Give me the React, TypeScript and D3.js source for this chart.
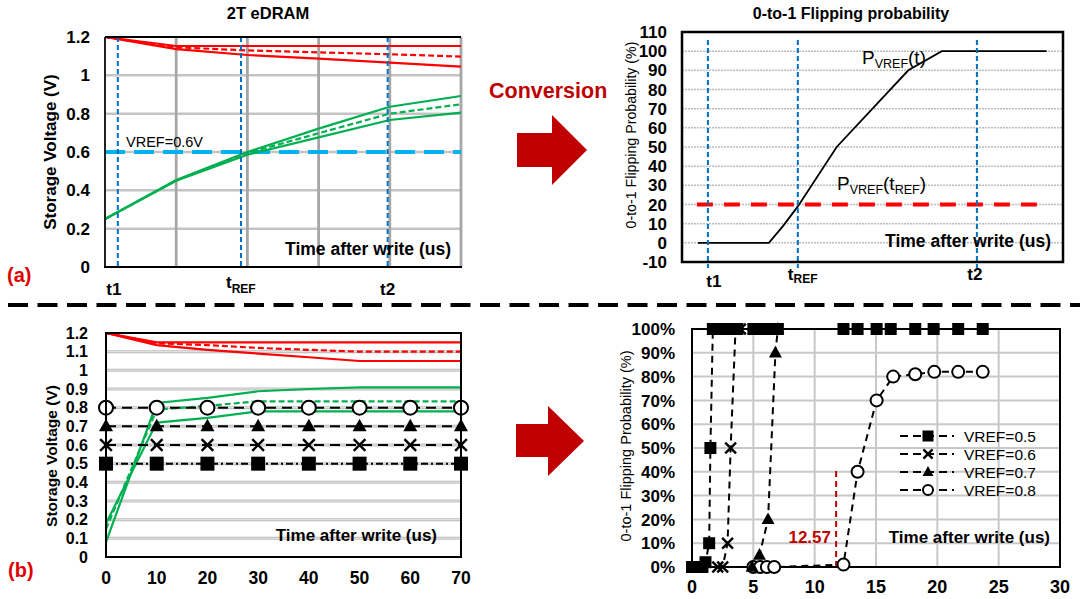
import * as d3 from 'd3';

const W = 1083, H = 599;
const FONT = '"Liberation Sans", Arial, sans-serif';

// ---- (a) left : storage voltage vs time (arbitrary units)
const timeA = [0, 1, 2, 3, 4, 5];
const redTopA = [1.2, 1.153, 1.153, 1.153, 1.153, 1.153];
const redMidA = [1.2, 1.146, 1.13, 1.12, 1.11, 1.098];
const redLowA = [1.2, 1.137, 1.106, 1.087, 1.066, 1.045];
const greenTopA = [0.25, 0.454, 0.6, 0.722, 0.836, 0.892];
const greenMidA = [0.25, 0.452, 0.594, 0.698, 0.8, 0.849];
const greenLowA = [0.25, 0.45, 0.586, 0.676, 0.767, 0.805];
const yTicksA = [0, 0.2, 0.4, 0.6, 0.8, 1, 1.2];
const tMarkA = [0.18, 1.91, 3.97];
const vrefA = 0.6;

// ---- (a) right : flipping probability
const timeB = [4.2, 22.8, 26.6, 30.4, 40.6, 59.4, 68.2, 95.7];
const probB = [0, 0, 9, 19, 50, 90, 100, 100];
const yTicksB = [-10, 0, 10, 20, 30, 40, 50, 60, 70, 80, 90, 100, 110];
const tMarkB = [6.8, 30.4, 77.4];
const pRefB = 20;

// ---- (b) left : storage voltage, 0..70 us
const timeC = [0, 10, 20, 30, 40, 50, 60, 70];
const redTopC = [1.2, 1.15, 1.15, 1.15, 1.15, 1.15, 1.15, 1.15];
const redMidC = [1.2, 1.145, 1.135, 1.12, 1.11, 1.1, 1.1, 1.1];
const redLowC = [1.2, 1.135, 1.11, 1.09, 1.07, 1.05, 1.05, 1.05];
const greenTopC = [0.08, 0.825, 0.852, 0.888, 0.9, 0.909, 0.909, 0.909];
const greenMidC = [0.15, 0.79, 0.81, 0.834, 0.834, 0.834, 0.834, 0.834];
const greenLowC = [0.18, 0.72, 0.745, 0.78, 0.78, 0.78, 0.78, 0.78];
const yTicksC = [0, 0.1, 0.2, 0.3, 0.4, 0.5, 0.6, 0.7, 0.8, 0.9, 1, 1.1, 1.2];
const xTicksC = [0, 10, 20, 30, 40, 50, 60, 70];
const vrefLevels = [0.5, 0.6, 0.7, 0.8];
const vrefShapes = ['square', 'x', 'triangle', 'circle'];
const vrefNames = ['VREF=0.5', 'VREF=0.6', 'VREF=0.7', 'VREF=0.8'];

// ---- (b) right : flipping probability per VREF
const sqT = [0, 0.85, 1.1, 1.4, 1.5, 1.7, 2.1, 2.5, 2.9, 3.3, 3.7, 5.0, 5.4, 5.8, 6.2, 6.6, 7.0, 12.35, 13.5, 15.05, 16.2, 18.2, 19.7, 21.7, 23.7];
const sqP = [0, 0, 2, 10, 50, 100, 100, 100, 100, 100, 100, 100, 100, 100, 100, 100, 100, 100, 100, 100, 100, 100, 100, 100, 100];
const xT = [2.1, 2.5, 2.9, 3.15, 3.55, 3.95];
const xP = [0, 0, 10, 50, 100, 100];
const triT = [4.9, 5.5, 6.2, 6.8, 7.0];
const triP = [0, 5, 20, 90, 100];
const cirT = [5.0, 5.55, 6.1, 6.7, 12.35, 13.5, 15.05, 16.4, 18.2, 19.75, 21.7, 23.7];
const cirP = [0, 0, 0, 0, 1, 40, 70, 80, 81, 82, 82, 82];
const yTicksD = [0, 10, 20, 30, 40, 50, 60, 70, 80, 90, 100];
const xTicksD = [0, 5, 10, 15, 20, 25, 30];
const cutT = 11.75;
const cutLabel = '12.57';

const RED = '#ff0000';
const GREEN = '#00b050';
const BLUE = '#0070c0';
const DARKRED = '#c00000';

const path = (xs: number[], ys: number[], sx: any, sy: any) =>
  d3.line<number>().x((_, i) => sx(xs[i])).y((v) => sy(v))(ys) as string;

function Marker({ type, x, y, s }: { type: string; x: number; y: number; s: number }) {
  if (type === 'square') return <rect x={x - s / 2} y={y - s / 2} width={s} height={s} fill="#000" />;
  if (type === 'circle') return <circle cx={x} cy={y} r={s / 2} fill="#fff" stroke="#000" strokeWidth={2} />;
  if (type === 'triangle') {
    const h = s * 0.9;
    return <polygon points={`${x},${y - h * 0.6} ${x - s / 2},${y + h * 0.4} ${x + s / 2},${y + h * 0.4}`} fill="#000" />;
  }
  const r = s / 2.4;
  return (
    <g stroke="#000" strokeWidth={2.4}>
      <line x1={x - r} y1={y - r} x2={x + r} y2={y + r} />
      <line x1={x - r} y1={y + r} x2={x + r} y2={y - r} />
    </g>
  );
}

function PanelA() {
  const sx = d3.scaleLinear().domain([0, 5]).range([105, 461]);
  const sy = d3.scaleLinear().domain([0, 1.2]).range([267, 37]);
  const curves = [
    { v: redTopA, c: RED, d: undefined },
    { v: redMidA, c: RED, d: '6,3' },
    { v: redLowA, c: RED, d: undefined },
    { v: greenTopA, c: GREEN, d: undefined },
    { v: greenMidA, c: GREEN, d: '6,3' },
    { v: greenLowA, c: GREEN, d: undefined },
  ];
  return (
    <g>
      <text x={268} y={19} textAnchor="middle" fontWeight="bold" fontSize={16.5}>2T eDRAM</text>
      {yTicksA.slice(1, -1).map((t) => (
        <line key={t} x1={105} x2={461} y1={sy(t)} y2={sy(t)} stroke="#c4c4c4" strokeWidth={2.5} />
      ))}
      {timeA.slice(1).map((t) => (
        <line key={t} x1={sx(t)} x2={sx(t)} y1={37} y2={267} stroke="#a6a6a6" strokeWidth={2.8} />
      ))}
      <line x1={105} x2={461} y1={sy(vrefA)} y2={sy(vrefA)} stroke="#00b0f0" strokeWidth={4} strokeDasharray="20,9" />
      {curves.map((c, i) => (
        <path key={i} d={path(timeA, c.v, sx, sy)} fill="none" stroke={c.c} strokeWidth={2.2} strokeDasharray={c.d} />
      ))}
      {tMarkA.map((t) => (
        <line key={t} x1={sx(t)} x2={sx(t)} y1={37} y2={267} stroke={BLUE} strokeWidth={2} strokeDasharray="5,3" />
      ))}
      <line x1={105} x2={461} y1={37} y2={37} stroke="#000" strokeWidth={2} />
      <line x1={105} x2={105} y1={37} y2={268} stroke="#222" strokeWidth={2} />
      <line x1={104} x2={462} y1={267} y2={267} stroke="#000" strokeWidth={2} />
      {yTicksA.map((t) => (
        <text key={t} x={90} y={sy(t)} dy="0.36em" textAnchor="end" fontWeight="bold" fontSize={17}>{t}</text>
      ))}
      <text transform="translate(56,152) rotate(-90)" textAnchor="middle" fontWeight="bold" fontSize={17}>Storage Voltage (V)</text>
      <text x={126} y={147} fontSize={14.5}>VREF=0.6V</text>
      <text x={451} y={255} textAnchor="end" fontWeight="bold" fontSize={17.5}>Time after write (us)</text>
      <text x={sx(tMarkA[0]) - 4} y={295} textAnchor="middle" fontWeight="bold" fontSize={17}>t1</text>
      <text x={sx(tMarkA[1]) - 15} y={288} fontWeight="bold" fontSize={17}>t<tspan fontSize={12} dy={5}>REF</tspan></text>
      <text x={sx(tMarkA[2])} y={295} textAnchor="middle" fontWeight="bold" fontSize={17}>t2</text>
      <text x={7} y={282} fontWeight="bold" fontSize={20} fill="#e00000">(a)</text>
    </g>
  );
}

function PanelB() {
  const sx = d3.scaleLinear().domain([0, 100]).range([682, 1063]);
  const sy = d3.scaleLinear().domain([-10, 110]).range([262, 32]);
  return (
    <g>
      <text x={851} y={19} textAnchor="middle" fontWeight="bold" fontSize={16}>0-to-1 Flipping probability</text>
      {yTicksB.slice(1, -1).map((t) => (
        <line key={t} x1={682} x2={1063} y1={sy(t)} y2={sy(t)} stroke="#bdbdbd" strokeWidth={1.5} strokeDasharray="2,1" />
      ))}
      <line x1={sx(3.9)} x2={sx(94)} y1={sy(pRefB)} y2={sy(pRefB)} stroke={RED} strokeWidth={4} strokeDasharray="16,11" />
      <path d={path(timeB, probB, sx, sy)} fill="none" stroke="#000" strokeWidth={1.8} />
      {tMarkB.map((t) => (
        <line key={t} x1={sx(t)} x2={sx(t)} y1={40} y2={268} stroke={BLUE} strokeWidth={2} strokeDasharray="5,3" />
      ))}
      <rect x={682} y={32} width={381} height={230} fill="none" stroke="#000" strokeWidth={2.5} />
      {yTicksB.map((t) => (
        <text key={t} x={667} y={sy(t)} dy="0.36em" textAnchor="end" fontWeight="bold" fontSize={17}>{t}</text>
      ))}
      <text transform="translate(636,135) rotate(-90)" textAnchor="middle" fontSize={14.2}>0-to-1 Flipping Probability (%)</text>
      <text x={862} y={64} fontSize={19}>P<tspan fontSize={12.5} dy={4}>VREF</tspan><tspan dy={-4}>(t)</tspan></text>
      <text x={837} y={190} fontSize={19}>P<tspan fontSize={12.5} dy={4}>VREF</tspan><tspan dy={-4}>(t</tspan><tspan fontSize={12.5} dy={4}>REF</tspan><tspan dy={-4}>)</tspan></text>
      <text x={1051} y={247} textAnchor="end" fontWeight="bold" fontSize={17.5}>Time after write (us)</text>
      <text x={sx(tMarkB[0]) + 6} y={287} textAnchor="middle" fontWeight="bold" fontSize={17}>t1</text>
      <text x={sx(tMarkB[1]) - 10} y={280} fontWeight="bold" fontSize={17}>t<tspan fontSize={12} dy={3}>REF</tspan></text>
      <text x={sx(tMarkB[2]) - 2} y={280} textAnchor="middle" fontWeight="bold" fontSize={17}>t2</text>
    </g>
  );
}

function PanelC() {
  const sx = d3.scaleLinear().domain([0, 70]).range([106, 461]);
  const sy = d3.scaleLinear().domain([0, 1.2]).range([557, 333]);
  const curves = [
    { v: redTopC, c: RED, d: undefined },
    { v: redMidC, c: RED, d: '6,3' },
    { v: redLowC, c: RED, d: undefined },
    { v: greenTopC, c: GREEN, d: undefined },
    { v: greenMidC, c: GREEN, d: '6,3' },
    { v: greenLowC, c: GREEN, d: undefined },
  ];
  return (
    <g>
      {yTicksC.slice(1, -1).map((t) => (
        <g key={t}>
          <line x1={106} x2={461} y1={sy(t)} y2={sy(t)} stroke="#bdbdbd" strokeWidth={3} />
          <line x1={106} x2={461} y1={sy(t)} y2={sy(t)} stroke="#e6e6e6" strokeWidth={1} />
        </g>
      ))}
      {curves.map((c, i) => (
        <path key={i} d={path(timeC, c.v, sx, sy)} fill="none" stroke={c.c} strokeWidth={2.2} strokeDasharray={c.d} />
      ))}
      {vrefLevels.map((lv, i) => (
        <g key={lv}>
          <line x1={sx(0)} x2={sx(70)} y1={sy(lv)} y2={sy(lv)} stroke="#000" strokeWidth={2}
            strokeDasharray={i === 0 ? '7,3,2,3' : '10,6'} />
          {timeC.map((t) => (
            <Marker key={t} type={vrefShapes[i]} x={sx(t)} y={sy(lv)} s={i === 3 ? 14 : 14} />
          ))}
        </g>
      ))}
      <rect x={106} y={333} width={355} height={224} fill="none" stroke="#000" strokeWidth={2} />
      {yTicksC.map((t) => (
        <text key={t} x={88} y={sy(t)} dy="0.36em" textAnchor="end" fontWeight="bold" fontSize={16}>{t}</text>
      ))}
      {xTicksC.map((t) => (
        <text key={t} x={sx(t)} y={584} textAnchor="middle" fontWeight="bold" fontSize={17.5}>{t}</text>
      ))}
      <text transform="translate(57,456) rotate(-90)" textAnchor="middle" fontWeight="bold" fontSize={15.5}>Storage Voltage (V)</text>
      <text x={437} y={541} textAnchor="end" fontWeight="bold" fontSize={17}>Time after write (us)</text>
      <text x={8} y={577} fontWeight="bold" fontSize={20} fill="#e00000">(b)</text>
    </g>
  );
}

function PanelD() {
  const sx = d3.scaleLinear().domain([0, 30]).range([692, 1060]);
  const sy = d3.scaleLinear().domain([0, 100]).range([567, 329]);
  const series = [
    { t: cirT, p: cirP, shape: 'circle', s: 12 },
    { t: triT, p: triP, shape: 'triangle', s: 13 },
    { t: xT, p: xP, shape: 'x', s: 13 },
    { t: sqT, p: sqP, shape: 'square', s: 12 },
  ];
  return (
    <g>
      {yTicksD.slice(1, -1).map((t) => (
        <line key={t} x1={692} x2={1060} y1={sy(t)} y2={sy(t)} stroke="#c8c8c8" strokeWidth={2} />
      ))}
      {xTicksD.slice(1, -1).map((t) => (
        <line key={t} x1={sx(t)} x2={sx(t)} y1={329} y2={567} stroke="#c8c8c8" strokeWidth={2} />
      ))}
      <line x1={sx(cutT)} x2={sx(cutT)} y1={567} y2={sy(41)} stroke={DARKRED} strokeWidth={2} strokeDasharray="6,4" />
      {series.map((s) => (
        <path key={s.shape} d={path(s.t, s.p, sx, sy)} fill="none" stroke="#000" strokeWidth={2} strokeDasharray="7,5" />
      ))}
      <rect x={692} y={329} width={368} height={238} fill="none" stroke="#000" strokeWidth={2} />
      {series.map((s) => (
        <g key={s.shape}>
          {s.t.map((t, i) => (
            <Marker key={i} type={s.shape} x={sx(t)} y={sy(s.p[i])} s={s.s} />
          ))}
        </g>
      ))}
      {yTicksD.map((t) => (
        <text key={t} x={675} y={sy(t)} dy="0.36em" textAnchor="end" fontWeight="bold" fontSize={17}>{t}%</text>
      ))}
      {xTicksD.map((t) => (
        <text key={t} x={sx(t)} y={593} textAnchor="middle" fontWeight="bold" fontSize={18}>{t}</text>
      ))}
      <text transform="translate(631,446) rotate(-90)" textAnchor="middle" fontSize={14.5}>0-to-1 Flipping Probability (%)</text>
      <text x={831} y={543} textAnchor="end" fontWeight="bold" fontSize={17} fill={DARKRED}>{cutLabel}</text>
      <text x={1050} y={543} textAnchor="end" fontWeight="bold" fontSize={17}>Time after write (us)</text>
      {vrefNames.map((n, i) => {
        const y = 436 + i * 18;
        return (
          <g key={n}>
            <line x1={900} x2={954} y1={y} y2={y} stroke="#000" strokeWidth={2} strokeDasharray="8,5" />
            <Marker type={vrefShapes[i]} x={928} y={y} s={i === 3 ? 10 : 11} />
            <text x={964} y={y} dy="0.36em" fontSize={15.5}>{n}</text>
          </g>
        );
      })}
    </g>
  );
}

export default function App() {
  return (
    <svg width={W} height={H} style={{ position: 'absolute', left: 0, top: 0, background: '#fff' }}
      fontFamily={FONT}>
      <rect width={W} height={H} fill="#fff" />
      <PanelA />
      <PanelB />
      <text x={489} y={98} fontWeight="bold" fontSize={21.5} fill={DARKRED}>Conversion</text>
      <polygon points="517,133 552,133 552,115 587,150 552,185 552,167 517,167" fill={DARKRED} />
      <line x1={8} x2={1080} y1={305} y2={305} stroke="#000" strokeWidth={4} strokeDasharray="20,9.5" />
      <polygon points="516,424 548,424 548,406 584,441 548,476 548,457 516,457" fill={DARKRED} />
      <PanelC />
      <PanelD />
    </svg>
  );
}
